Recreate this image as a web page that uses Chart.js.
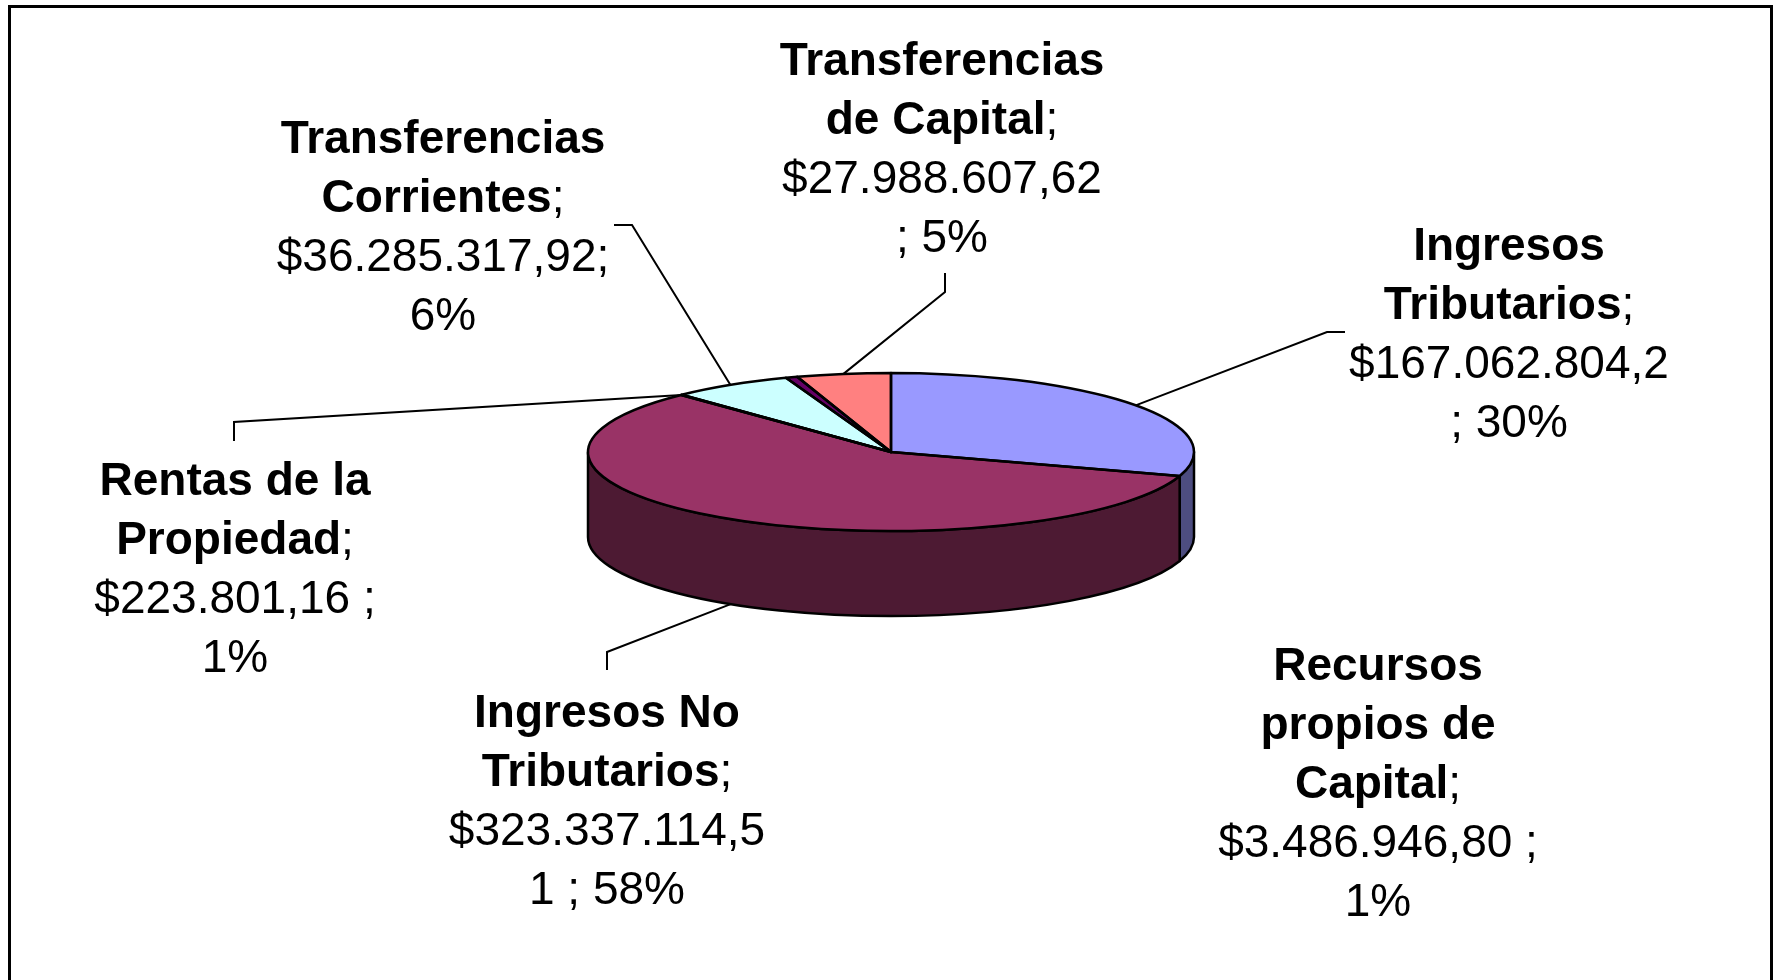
<!DOCTYPE html>
<html>
<head>
<meta charset="utf-8">
<script src="https://cdn.jsdelivr.net/npm/chart.js@4.4.0/dist/chart.umd.min.js"></script>
<style>
  html, body { margin:0; padding:0; background:#fff; }
  #wrap { width:1779px; height:980px; }
</style>
</head>
<body>
<div id="wrap"><canvas id="pie" width="1779" height="980"></canvas></div>
<script>
// data ----------------------------------------------------------
const categories = [
  "Ingresos Tributarios",
  "Ingresos No Tributarios",
  "Rentas de la Propiedad",
  "Transferencias Corrientes",
  "Recursos propios de Capital",
  "Transferencias de Capital"
];
const values = [167062804.2, 323337114.51, 223801.16, 36285317.92, 3486946.80, 27988607.62];
const sliceColors = ["#9999FF", "#993366", "#FFFFCC", "#CCFFFF", "#660066", "#FF8080"];

// label text, wrapped the way the picture wraps it
const nameLines = [
  ["Ingresos", "Tributarios"],
  ["Ingresos No", "Tributarios"],
  ["Rentas de la", "Propiedad"],
  ["Transferencias", "Corrientes"],
  ["Recursos", "propios de", "Capital"],
  ["Transferencias", "de Capital"]
];
const valueLines = [
  ["$167.062.804,2", "; 30%"],
  ["$323.337.114,5", "1 ; 58%"],
  ["$223.801,16 ;", "1%"],
  ["$36.285.317,92;", "6%"],
  ["$3.486.946,80 ;", "1%"],
  ["$27.988.607,62", "; 5%"]
];

// where each label sits: centre x, first baseline, leader elbow
const labelPos = [
  { x: 1509, y: 260, elbow: [[1345, 332], [1327, 332]] },
  { x: 607,  y: 727, elbow: [[607, 670], [607, 652]] },
  { x: 235,  y: 495, elbow: [[234, 441], [234, 422]] },
  { x: 443,  y: 153, elbow: [[614, 225], [632, 225]] },
  { x: 1378, y: 680, elbow: null },
  { x: 942,  y: 75,  elbow: [[945, 273], [945, 292]] }
];

const TILT  = 0.261;   // squash of the top face
const DEPTH = 85;      // wall height in px
const LINE  = 59;      // label line height
const FSIZE = 46;
const FONT  = '"Liberation Sans", Arial, sans-serif';

function shade(hex, f) {
  const n = parseInt(hex.slice(1), 16);
  const r = Math.round((n >> 16) * f), g = Math.round(((n >> 8) & 255) * f), b = Math.round((n & 255) * f);
  return `rgb(${r},${g},${b})`;
}

function squash(ctx, cy) {
  ctx.translate(0, cy);
  ctx.scale(1, TILT);
  ctx.translate(0, -cy);
}

// fake 3d: wall under the pie, flatten the top, outlines + labels
const pie3d = {
  id: "pie3d",
  beforeDatasetsDraw(chart) {
    const ctx = chart.ctx;
    const arcs = chart.getDatasetMeta(0).data;
    ctx.save();
    ctx.lineWidth = 2.5;
    ctx.strokeStyle = "#000";
    ctx.lineJoin = "round";
    arcs.forEach((a, i) => {
      const s = Math.max(a.startAngle, 0), e = Math.min(a.endAngle, Math.PI);
      if (e <= s) return;
      ctx.save();
      squash(ctx, a.y);
      ctx.beginPath();
      ctx.arc(a.x, a.y, a.outerRadius, s, e);
      ctx.arc(a.x, a.y + DEPTH / TILT, a.outerRadius, e, s, true);
      ctx.closePath();
      ctx.restore();
      ctx.fillStyle = shade(sliceColors[i], 0.5);
      ctx.fill();
      ctx.stroke();
    });
    ctx.restore();
    ctx.save();
    squash(ctx, arcs[0].y);   // left open, closed in afterDatasetsDraw
  },
  afterDatasetsDraw(chart) {
    const ctx = chart.ctx;
    ctx.restore();
    const arcs = chart.getDatasetMeta(0).data;
    ctx.save();
    ctx.lineWidth = 2.5;
    ctx.strokeStyle = "#000";
    ctx.lineJoin = "round";
    arcs.forEach(a => {
      ctx.save();
      squash(ctx, a.y);
      ctx.beginPath();
      ctx.moveTo(a.x, a.y);
      ctx.arc(a.x, a.y, a.outerRadius, a.startAngle, a.endAngle);
      ctx.closePath();
      ctx.restore();
      ctx.stroke();
    });
    ctx.restore();
  },
  afterDraw(chart) {
    const ctx = chart.ctx;
    const arcs = chart.getDatasetMeta(0).data;
    ctx.save();

    // leader lines
    ctx.lineWidth = 2;
    ctx.strokeStyle = "#000";
    arcs.forEach((a, i) => {
      const p = labelPos[i];
      if (!p.elbow) return;
      const mid = (a.startAngle + a.endAngle) / 2;
      const px = a.x + a.outerRadius * Math.cos(mid);
      let py = a.y + a.outerRadius * TILT * Math.sin(mid);
      if (Math.sin(mid) > 0) py += DEPTH;
      ctx.beginPath();
      ctx.moveTo(p.elbow[0][0], p.elbow[0][1]);
      ctx.lineTo(p.elbow[1][0], p.elbow[1][1]);
      ctx.lineTo(px, py);
      ctx.stroke();
    });

    // labels
    ctx.fillStyle = "#000";
    ctx.textBaseline = "alphabetic";
    ctx.textAlign = "left";
    categories.forEach((c, i) => {
      const p = labelPos[i];
      const lines = nameLines[i].map((t, j, arr) => [t, j === arr.length - 1 ? ";" : ""])
        .concat(valueLines[i].map(t => ["", t]));
      lines.forEach(([b, n], j) => {
        ctx.font = `bold ${FSIZE}px ${FONT}`;
        const wb = ctx.measureText(b).width;
        ctx.font = `${FSIZE}px ${FONT}`;
        const wn = ctx.measureText(n).width;
        const x0 = p.x - (wb + wn) / 2, y0 = p.y + j * LINE;
        ctx.font = `bold ${FSIZE}px ${FONT}`;
        ctx.fillText(b, x0, y0);
        ctx.font = `${FSIZE}px ${FONT}`;
        ctx.fillText(n, x0 + wb, y0);
      });
    });

    // chart frame
    ctx.lineWidth = 3;
    ctx.strokeRect(9.5, 6.5, 1762, 1100);
    ctx.restore();
  }
};

new Chart(document.getElementById("pie"), {
  type: "pie",
  data: {
    labels: categories,
    datasets: [{
      data: values,
      backgroundColor: sliceColors,
      borderWidth: 0,
      radius: 303
    }]
  },
  options: {
    responsive: false,
    animation: false,
    layout: { padding: { left: 3, right: 0, top: 0, bottom: 76 } },
    plugins: { legend: { display: false }, tooltip: { enabled: false } }
  },
  plugins: [pie3d]
});
</script>
</body>
</html>
